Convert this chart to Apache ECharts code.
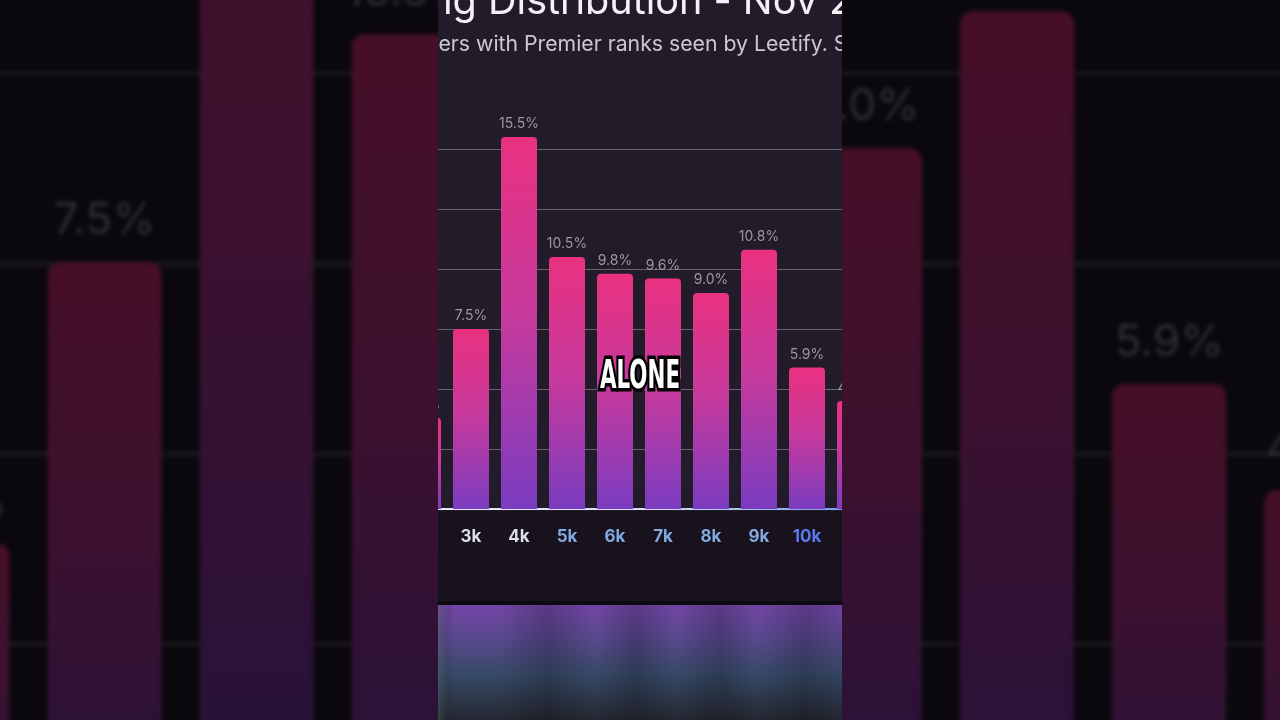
<!DOCTYPE html>
<html>
<head>
<meta charset="utf-8">
<script src="https://cdn.jsdelivr.net/npm/echarts@6/dist/echarts.min.js"></script>
<style>
  html, body { margin:0; padding:0; }
  body { width:1280px; height:720px; overflow:hidden; position:relative; background:#07060a; }
  #bg { position:absolute; left:390px; top:0; width:500px; height:720px;
        transform-origin:250px 360px; transform:scale(3.168);
        filter:brightness(0.3) blur(0.7px); }
  #clip { position:absolute; left:438px; top:0; width:404px; height:720px; overflow:hidden; }
  #main { position:absolute; left:-48px; top:0; width:500px; height:720px; }
</style>
</head>
<body>
<div id="bg"></div>
<div id="clip"><div id="main"></div></div>
<script>
// ---- data ----
const categories = ['2k', '3k', '4k', '5k', '6k', '7k', '8k', '9k', '10k', '11k'];
const shares = [3.8, 7.5, 15.5, 10.5, 9.8, 9.6, 9.0, 10.8, 5.9, 4.5];
const titleText = 'Premier Rating Distribution - Nov 2024';
const subtitleText = 'Percentage of players with Premier ranks seen by Leetify. Season 1';
const captionText = 'ALONE';

// ---- helpers ----
const mctx = document.createElement('canvas').getContext('2d');
function textW(t, font) { mctx.font = font; return mctx.measureText(t).width; }
function tierColor(cat) {
  const k = parseFloat(cat);
  if (k < 5) return '#dcdee9';
  if (k < 10) return '#82a8de';
  return '#5b78f0';
}
const OFFX = 390; // page x of the chart div
const FAM = 'Inter, "Noto Sans", sans-serif';
const titleSize = 330 / textW('Distribution - Nov', '400 100px ' + FAM) * 100;
const titleX = 488 - OFFX - textW('Premier Rating ', '400 ' + titleSize + 'px ' + FAM);
const subSize = 352 / textW('with Premier ranks seen by Leetify.', '400 100px ' + FAM) * 100;
const subX = 476 - OFFX - textW('Percentage of players ', '400 ' + subSize + 'px ' + FAM);
const capFont = 'bold 39px "DejaVu Sans Condensed", "DejaVu Sans", sans-serif';
const capScale = 80 / textW(captionText, capFont);

function buildOption(withCaption) {
  const graphic = [
    { type:'rect', z:-5, shape:{x:0, y:511, width:500, height:90}, style:{fill:'#17121c'} },
    { type:'rect', z:-5, shape:{x:0, y:601, width:500, height:4}, style:{fill:'#0d0a11'} },
    { type:'rect', z:-5, shape:{x:0, y:605, width:500, height:115}, style:{fill:{
        type:'linear', x:0, y:0, x2:0, y2:1, colorStops:[
          {offset:0, color:'#7246a6'}, {offset:0.3, color:'#58488c'},
          {offset:0.6, color:'#374a68'}, {offset:1, color:'#252731'}]}} },
    { type:'rect', z:-4, shape:{x:48, y:605, width:404, height:115}, style:{fill:{
        type:'linear', x:0, y:0, x2:1, y2:0, colorStops:[
          {offset:0, color:'rgba(90,110,100,0.35)'}, {offset:0.04, color:'rgba(0,0,0,0)'},
          {offset:0.15, color:'rgba(0,0,0,0.0)'}, {offset:0.27, color:'rgba(0,0,0,0.2)'},
          {offset:0.39, color:'rgba(0,0,0,0.0)'}, {offset:0.49, color:'rgba(0,0,0,0.2)'},
          {offset:0.59, color:'rgba(0,0,0,0.0)'}, {offset:0.7, color:'rgba(0,0,0,0.2)'},
          {offset:0.79, color:'rgba(0,0,0,0.0)'}, {offset:0.91, color:'rgba(0,0,0,0.2)'},
          {offset:1, color:'rgba(0,0,0,0.05)'}]}} },
    { type:'text', z:10, x:titleX, y:14 - 0.3 * titleSize, style:{
        text:titleText, font:'400 ' + titleSize + 'px ' + FAM, fill:'#f4f1f6',
        align:'left', verticalAlign:'middle'} },
    { type:'text', z:10, x:subX, y:51 - 0.3 * subSize, style:{
        text:subtitleText, font:'400 ' + subSize + 'px ' + FAM, fill:'#ccc8d2',
        align:'left', verticalAlign:'middle'} }
  ];
  if (withCaption) {
    graphic.push(
      { type:'text', z:100, x:250, y:378, scaleX:capScale, style:{
          text:captionText, font:capFont, fill:'#000', stroke:'#000', lineWidth:7,
          align:'center', verticalAlign:'middle'} },
      { type:'text', z:101, x:250, y:378, scaleX:capScale, style:{
          text:captionText, font:capFont, fill:'#ffffff',
          align:'center', verticalAlign:'middle'} }
    );
  }
  return {
    backgroundColor:'#221b2a',
    animation:false,
    grid:{ left:9, width:480, top:119, height:390 },
    xAxis:{
      type:'category', data:categories,
      axisLine:{ lineStyle:{ width:2, color:{ type:'linear', x:0, y:0, x2:1, y2:0, colorStops:[
        {offset:0, color:'#e8eaf5'}, {offset:0.55, color:'#d2d9f3'},
        {offset:0.8, color:'#93b0ee'}, {offset:1, color:'#6a8cf0'}]}}},
      axisTick:{ show:false },
      axisLabel:{ interval:0, margin:19, fontSize:17, fontWeight:'bold', fontFamily:FAM,
                  color:(v) => tierColor(v) }
    },
    yAxis:{
      type:'value', min:0, max:16.25, interval:2.5,
      axisLabel:{ show:false }, axisLine:{ show:false }, axisTick:{ show:false },
      splitLine:{ show:true, showMinLine:false, showMaxLine:false,
                  lineStyle:{ color:'#68626f', width:1 } }
    },
    series:[{
      type:'bar', data:shares, barWidth:36,
      itemStyle:{ borderRadius:[4,4,0,0], color:{ type:'linear', x:0, y:0, x2:0, y2:1, colorStops:[
        {offset:0, color:'#ea3180'}, {offset:0.5, color:'#c43a9e'}, {offset:1, color:'#7a3cc0'}]}},
      label:{ show:true, position:'top', distance:6, color:'#9c97a4', fontSize:14,
              fontFamily:FAM, formatter:(p) => p.value.toFixed(1) + '%' }
    }],
    graphic:graphic
  };
}

const bgChart = echarts.init(document.getElementById('bg'), null, { renderer:'canvas', devicePixelRatio:3.168 });
bgChart.setOption(buildOption(false));
const mainChart = echarts.init(document.getElementById('main'), null, { renderer:'canvas' });
mainChart.setOption(buildOption(true));
</script>
</body>
</html>
